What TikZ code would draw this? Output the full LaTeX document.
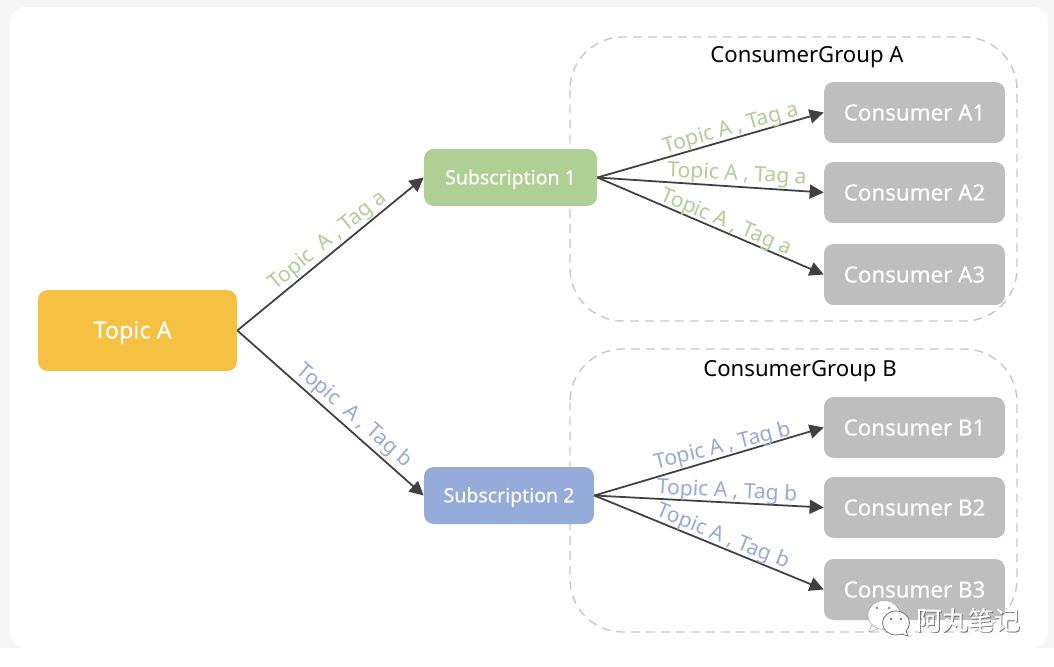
\documentclass[tikz,border=0pt]{standalone}
\usepackage{fontspec}
\setmainfont{Noto Sans}
\newfontfamily\boxfont[FakeBold=0.25]{Noto Sans}
\newfontfamily\cjkfont[FakeBold=0.4]{Noto Sans CJK SC}
\usetikzlibrary{arrows.meta}
\definecolor{cardgrey}{HTML}{F6F6F6}
\definecolor{topicyellow}{HTML}{F6C143}
\definecolor{subgreen}{HTML}{AED094}
\definecolor{subblue}{HTML}{95ABD9}
\definecolor{consumergrey}{HTML}{BEBEBE}
\definecolor{groupdash}{HTML}{C8C8C8}
\definecolor{connblack}{HTML}{404040}
\begin{document}
\begin{tikzpicture}[x=0.02cm,y=-0.02cm,
boxnode/.style={rounded corners=5.5pt,inner sep=0pt,text=white},
topicbox/.style={boxnode,fill=topicyellow,minimum width=3.98cm,minimum height=1.62cm,text height=11.5pt,text depth=2.5pt,font=\boxfont\fontsize{13.3}{15}\selectfont},
subbox/.style={boxnode,minimum height=1.14cm,text height=10.2pt,text depth=2.5pt,font=\boxfont\fontsize{11.1}{14}\selectfont},
consumerbox/.style={boxnode,fill=consumergrey,minimum width=3.62cm,minimum height=1.22cm,font=\boxfont\fontsize{12.7}{14}\selectfont},
grouptitle/.style={inner sep=0pt,text=black,font=\fontsize{12.6}{14}\selectfont},
taglabel/.style={inner sep=0pt,font=\fontsize{12}{14}\selectfont},
conn/.style={draw=connblack,line width=1pt,-{Triangle[length=8pt,width=8pt]}}]
\useasboundingbox (0,0) rectangle (1054,666);
\fill [cardgrey] (0,0) rectangle (1054,648);
\fill [white,rounded corners=9pt] (10,7) rectangle (1048,648);
\draw [groupdash,line width=0.8pt,dash pattern=on 5pt off 3.5pt,rounded corners=30pt] (570,37) rectangle (1017,321);
\draw [groupdash,line width=0.8pt,dash pattern=on 5pt off 3.5pt,rounded corners=30pt] (570,349) rectangle (1017,632);
\node [grouptitle] (titlea) at (807,57) {ConsumerGroup A};
\node [grouptitle] (titleb) at (800,371) {ConsumerGroup B};
\node [topicbox] (topic) at (137.5,330.5) {Topic A\kern5.6pt};
\node [subbox,fill=subgreen,minimum width=3.46cm] (sub1) at (510.5,177.5) {Subscription 1};
\node [subbox,fill=subblue,minimum width=3.4cm] (sub2) at (509,495.5) {Subscription 2};
\node [consumerbox] (a1) at (914.5,112.5) {Consumer A1};
\node [consumerbox] (a2) at (914.5,192.5) {Consumer A2};
\node [consumerbox] (a3) at (914.5,274.5) {Consumer A3};
\node [consumerbox] (b1) at (914.5,427.5) {Consumer B1};
\node [consumerbox] (b2) at (914.5,507.5) {Consumer B2};
\node [consumerbox] (b3) at (914.5,589.5) {Consumer B3};
\draw [conn] (topic.east) -- (sub1.west);
\draw [conn] (topic.east) -- (sub2.west);
\draw [conn] (sub1.east) -- (a1.west);
\draw [conn] (sub1.east) -- (a2.west);
\draw [conn] (sub1.east) -- (a3.west);
\draw [conn] (sub2.east) -- (b1.west);
\draw [conn] (sub2.east) -- (b2.west);
\draw [conn] (sub2.east) -- (b3.west);
\node [taglabel,text=subgreen,rotate=39] (lab1) at (328,241) {Topic\hspace{3pt} A , Tag a};
\node [taglabel,text=subblue,rotate=-41] (lab2) at (354,416) {Topic\hspace{3pt} A , Tag b};
\node [taglabel,text=subgreen,rotate=16] (laba1) at (731,129) {Topic A , Tag a};
\node [taglabel,text=subgreen,rotate=-3] (laba2) at (737,175) {Topic A , Tag a};
\node [taglabel,text=subgreen,rotate=-23] (laba3) at (726,223) {Topic A , Tag a};
\node [taglabel,text=subblue,rotate=14] (labb1) at (723,447) {Topic A , Tag b};
\node [taglabel,text=subblue,rotate=-3] (labb2) at (727,492) {Topic A , Tag b};
\node [taglabel,text=subblue,rotate=-22] (labb3) at (723,537) {Topic A , Tag b};
\fill [white,draw=black!35,line width=0.3pt] (873,622) -- (869,632) -- (881,628) -- cycle;
\fill [white,draw=black!35,line width=0.3pt] (884,615) ellipse (16 and 14.5);
\fill [white,draw=black!60,line width=0.4pt] (905,628) -- (908,636) -- (898,633) -- cycle;
\fill [white,draw=black!60,line width=0.4pt] (896,623) ellipse (13.5 and 12);
\fill [white] (898,634) -- (905,627) -- (906,633) -- cycle;
\fill [black!45] (877,608) circle (1.4);
\fill [black!45] (889,608) circle (1.4);
\fill [black!55] (891,619) circle (1.3);
\fill [black!55] (901,619) circle (1.3);
\node [inner sep=0pt,text=black!65,font=\cjkfont\fontsize{14.8}{17}\selectfont] (markshadow) at (968.7,620.7) {阿丸笔记};
\node [inner sep=0pt,text=white,font=\cjkfont\fontsize{14.8}{17}\selectfont] (mark) at (968,620) {阿丸笔记};
\end{tikzpicture}
\end{document}
